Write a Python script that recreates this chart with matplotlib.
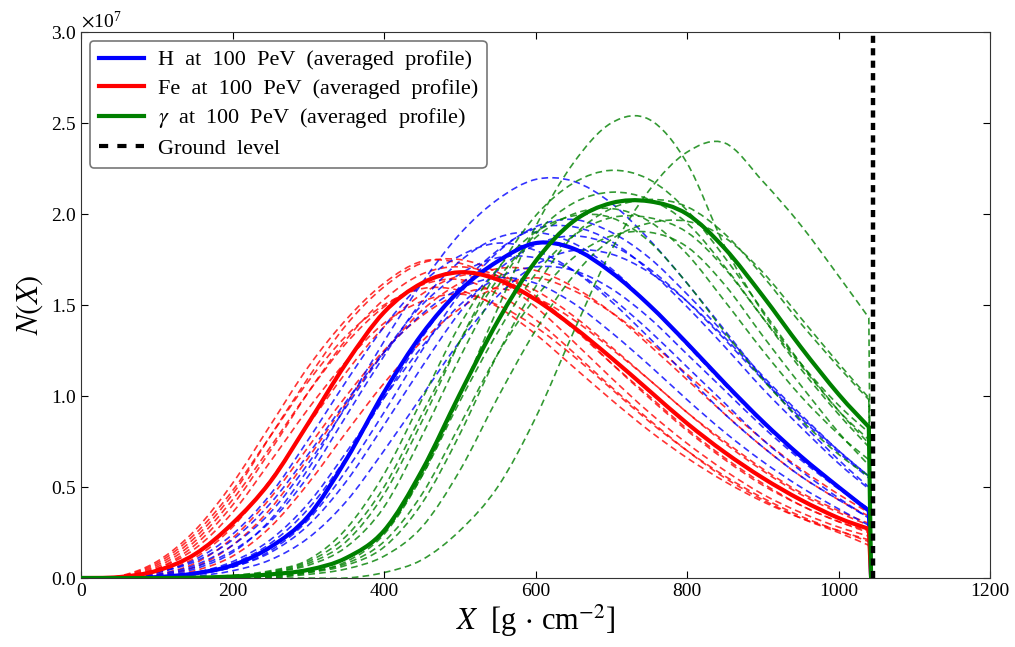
import matplotlib
matplotlib.use("Agg")
import matplotlib.pyplot as plt
from matplotlib.path import Path
from matplotlib.patches import PathPatch
from matplotlib.lines import Line2D

plt.rcParams['font.family'] = ['Liberation Serif', 'DejaVu Serif']
plt.rcParams['mathtext.fontset'] = 'stix'

# atmospheric depth grid [g/cm^2], last point = ground
depth = [0, 50, 100, 150, 200, 250, 300, 350, 400, 450, 500, 550, 600, 650,
         700, 750, 800, 850, 900, 950, 1000, 1040, 1043]
ground = 1045

# averaged profiles, N in units of 1e6
h_avg = [0, 0, 0.05, 0.25, 0.7, 1.7, 3.4, 6.5, 10.2, 13.4, 15.8, 17.4, 18.4, 18.1,
         16.8, 15.0, 12.9, 10.7, 8.6, 6.7, 5.0, 3.7, 0]
fe_avg = [0, 0.05, 0.4, 1.3, 3.0, 5.3, 8.5, 11.8, 14.6, 16.2, 16.8, 16.4, 15.3, 13.8,
          12.1, 10.3, 8.5, 6.9, 5.5, 4.3, 3.3, 2.7, 0]
g_avg = [0, 0, 0, 0.02, 0.08, 0.2, 0.45, 1.1, 2.6, 5.9, 10.1, 14.1, 17.4, 19.6,
         20.6, 20.7, 20.0, 18.1, 15.5, 12.7, 10.1, 8.3, 0]

# single showers
fe_showers = [
    [0, 0.1, 0.9, 2.6, 5.2, 8.4, 11.6, 14.2, 16.2, 17.4, 17.3, 16.4, 14.9, 13.0, 11.0, 9.1, 7.4, 5.9, 4.6, 3.6, 2.8, 2.3, 0],
    [0, 0.05, 0.7, 2.2, 4.6, 7.8, 11.0, 13.9, 16.0, 17.3, 17.5, 16.8, 15.5, 13.8, 11.8, 9.9, 8.1, 6.5, 5.1, 4.0, 3.1, 2.5, 0],
    [0, 0.03, 0.5, 1.8, 4.0, 7.0, 10.2, 13.1, 15.3, 16.7, 17.1, 16.6, 15.3, 13.7, 11.8, 10.0, 8.2, 6.6, 5.2, 4.0, 3.1, 2.6, 0],
    [0, 0.08, 0.8, 2.4, 4.8, 7.8, 10.8, 13.3, 15.0, 15.9, 15.8, 14.9, 13.4, 11.6, 9.8, 8.1, 6.6, 5.3, 4.2, 3.3, 2.6, 2.0, 0],
    [0, 0, 0.3, 1.1, 2.8, 5.4, 8.4, 11.3, 13.8, 15.6, 16.6, 16.6, 15.8, 14.4, 12.7, 10.9, 9.1, 7.4, 5.9, 4.6, 3.6, 2.9, 0],
    [0, 0, 0.2, 0.8, 2.2, 4.4, 7.2, 10.0, 12.5, 14.4, 15.6, 15.9, 15.4, 14.2, 12.6, 10.9, 9.1, 7.5, 6.0, 4.7, 3.7, 3.0, 0],
    [0, 0, 0.05, 0.4, 1.2, 2.8, 5.2, 8.0, 10.7, 13.0, 14.8, 16.0, 16.5, 15.8, 14.6, 13.0, 11.2, 9.4, 7.6, 6.0, 4.6, 3.6, 0],
    [0, 0.03, 0.5, 1.6, 3.6, 6.4, 9.3, 11.9, 14.0, 15.2, 15.6, 15.0, 13.8, 12.2, 10.4, 8.6, 7.0, 5.6, 4.4, 3.4, 2.6, 2.1, 0],
    [0, 0, 0.15, 0.6, 1.8, 3.8, 6.6, 9.6, 12.4, 14.7, 16.2, 17.0, 16.9, 16.0, 14.6, 12.8, 10.9, 9.0, 7.2, 5.6, 4.3, 3.4, 0],
    [0, 0.04, 0.6, 2.0, 4.3, 7.2, 10.2, 12.9, 14.9, 16.1, 16.4, 15.6, 14.2, 12.4, 10.5, 8.7, 7.0, 5.5, 4.3, 3.3, 2.5, 1.8, 0],
]
h_showers = [
    [0, 0, 0.1, 0.5, 1.4, 3.2, 6.0, 9.5, 13.0, 16.2, 18.9, 20.8, 21.9, 21.8, 20.6, 18.6, 16.2, 13.6, 11.0, 8.6, 6.5, 5.0, 0],
    [0, 0.05, 0.3, 1.0, 2.4, 4.6, 7.6, 10.8, 13.8, 16.2, 17.7, 18.4, 18.0, 16.9, 15.2, 13.2, 11.1, 9.0, 7.2, 5.6, 4.3, 3.3, 0],
    [0, 0, 0.05, 0.2, 0.6, 1.4, 2.9, 5.3, 8.4, 11.6, 14.6, 16.9, 18.3, 18.8, 18.3, 17.0, 15.2, 13.1, 10.9, 8.8, 6.9, 5.5, 0],
    [0, 0, 0.2, 0.7, 1.8, 3.6, 6.3, 9.4, 12.4, 15.0, 16.7, 17.6, 17.6, 16.9, 15.4, 13.6, 11.6, 9.6, 7.6, 5.9, 4.4, 3.3, 0],
    [0, 0, 0.05, 0.3, 0.8, 1.9, 3.8, 6.6, 9.9, 13.2, 16.0, 18.0, 19.2, 19.3, 18.5, 16.9, 14.9, 12.7, 10.4, 8.3, 6.3, 4.9, 0],
    [0, 0, 0.1, 0.3, 0.9, 2.1, 4.1, 6.9, 9.9, 12.7, 15.0, 16.5, 17.1, 16.9, 15.9, 14.3, 12.3, 10.3, 8.3, 6.5, 4.9, 3.8, 0],
    [0, 0, 0.15, 0.6, 1.5, 3.1, 5.6, 8.9, 12.2, 15.2, 17.4, 18.7, 19.0, 18.4, 17.0, 15.0, 12.8, 10.6, 8.5, 6.6, 5.0, 3.8, 0],
    [0, 0, 0, 0.1, 0.4, 1.0, 2.2, 4.2, 7.0, 10.0, 13.0, 15.5, 17.2, 18.0, 17.8, 16.8, 15.2, 13.2, 11.0, 8.9, 7.0, 5.6, 0],
    [0, 0.05, 0.3, 0.9, 2.1, 4.1, 6.8, 9.7, 12.4, 14.5, 15.9, 16.5, 16.2, 15.1, 13.5, 11.7, 9.8, 8.0, 6.4, 5.0, 3.8, 2.9, 0],
    [0, 0, 0, 0.2, 0.6, 1.5, 3.2, 5.9, 9.1, 12.5, 15.6, 17.9, 19.3, 19.7, 19.0, 17.6, 15.6, 13.4, 11.1, 9.0, 7.0, 5.6, 0],
]
g_showers = [
    [0, 0, 0, 0, 0, 0, 0.3, 0.9, 2.4, 5.6, 10.0, 14.8, 19.3, 22.8, 25.0, 25.2, 22.8, 18.2, 14.6, 11.8, 9.5, 8.0, 0],
    [0, 0, 0, 0, 0, 0, 0, 0, 0.3, 1.0, 2.6, 5.0, 8.8, 13.5, 18.0, 21.3, 23.4, 23.9, 21.8, 19.4, 16.6, 14.3, 0],
    [0, 0, 0, 0, 0.1, 0.3, 0.8, 2.0, 4.6, 8.6, 13.0, 16.9, 19.9, 21.7, 22.4, 21.9, 20.2, 17.6, 14.7, 11.8, 9.2, 7.4, 0],
    [0, 0, 0, 0, 0, 0.1, 0.3, 0.7, 1.7, 4.1, 7.9, 12.3, 16.0, 18.8, 20.3, 20.8, 20.4, 18.9, 16.6, 14.0, 11.6, 9.8, 0],
    [0, 0, 0, 0.05, 0.15, 0.4, 1.0, 2.7, 5.7, 9.8, 13.9, 17.0, 19.0, 19.9, 19.8, 18.5, 16.2, 13.5, 10.9, 8.7, 6.8, 5.6, 0],
    [0, 0, 0, 0, 0, 0.2, 0.45, 1.1, 2.5, 5.6, 9.7, 13.5, 16.7, 18.8, 19.8, 19.8, 19.0, 17.0, 14.3, 11.7, 9.2, 7.6, 0],
    [0, 0, 0, 0, 0.1, 0.3, 0.7, 1.7, 3.9, 7.8, 12.1, 16.0, 18.9, 20.6, 21.2, 20.8, 19.5, 17.1, 14.3, 11.5, 9.0, 7.2, 0],
    [0, 0, 0, 0, 0, 0.05, 0.2, 0.5, 1.2, 2.8, 5.9, 9.9, 13.6, 16.6, 18.6, 19.5, 19.6, 18.7, 16.8, 14.3, 11.8, 9.9, 0],
    [0, 0, 0, 0, 0, 0.1, 0.35, 0.8, 2.0, 4.6, 8.4, 12.3, 15.4, 17.6, 18.8, 19.0, 18.2, 16.1, 13.3, 10.6, 8.0, 6.2, 0],
    [0, 0, 0, 0, 0.1, 0.35, 0.9, 2.3, 5.0, 9.0, 13.0, 16.4, 18.7, 20.0, 20.3, 19.6, 17.8, 15.2, 12.5, 10.0, 7.9, 6.5, 0],
]


def profile_path(xs, ys):
    # smooth curve through the profile points (Catmull-Rom as cubic Bezier),
    # then a straight drop at ground level
    pts = [(x, y * 1e6) for x, y in zip(xs[:-1], ys[:-1])]
    verts = [pts[0]]
    codes = [Path.MOVETO]
    for i in range(len(pts) - 1):
        p0 = pts[i - 1] if i > 0 else pts[i]
        p1 = pts[i]
        p2 = pts[i + 1]
        p3 = pts[i + 2] if i + 2 < len(pts) else pts[i + 1]
        c1 = (p1[0] + (p2[0] - p0[0]) / 6, p1[1] + (p2[1] - p0[1]) / 6)
        c2 = (p2[0] - (p3[0] - p1[0]) / 6, p2[1] - (p3[1] - p1[1]) / 6)
        verts += [c1, c2, p2]
        codes += [Path.CURVE4] * 3
    verts.append((xs[-1], ys[-1] * 1e6))
    codes.append(Path.LINETO)
    return Path(verts, codes)


fig = plt.figure(figsize=(10.15, 6.47), dpi=100)
ax = fig.add_axes([0.0798, 0.1066, 0.8956, 0.8439])

# individual showers first, averages on top
for showers, col in [(fe_showers, 'r'), (h_showers, 'b'), (g_showers, 'g')]:
    for s in showers:
        ax.add_patch(PathPatch(profile_path(depth, s), fill=False, edgecolor=col,
                               lw=1.2, ls=(0, (4, 2.5)), alpha=0.8))

for prof, col in [(h_avg, 'b'), (fe_avg, 'r'), (g_avg, 'g')]:
    ax.add_patch(PathPatch(profile_path(depth, prof), fill=False, edgecolor=col,
                           lw=3, zorder=3))

ax.axvline(ground, color='k', ls=(0, (1.6, 1.2)), lw=3.2, zorder=4)

ax.set_xlim(0, 1200)
ax.set_ylim(0, 3.0e7)
ax.set_xticks(range(0, 1201, 200))
ax.set_yticks([i * 0.5e7 for i in range(7)])
ax.ticklabel_format(axis='y', style='sci', scilimits=(0, 0), useMathText=True)
ax.yaxis.get_offset_text().set_fontsize(14)
ax.tick_params(direction='in', top=True, right=True, labelsize=14, length=5)
for sp in ax.spines.values():
    sp.set_color('#333333')

ax.set_xlabel(r'$X$  [g$\,\cdot\,$cm$^{-2}$]', fontsize=22, labelpad=2)
ax.set_ylabel(r'$N(X)$', fontsize=22, labelpad=4)

handles = [
    Line2D([], [], color='b', lw=3),
    Line2D([], [], color='r', lw=3),
    Line2D([], [], color='g', lw=3),
    Line2D([], [], color='k', lw=3, ls=(0, (2.2, 2.2))),
]
labels = [
    'H  at  100  PeV  (averaged  profile)',
    'Fe  at  100  PeV  (averaged  profile)',
    r'$\gamma$  at  100  PeV  (averaged  profile)',
    'Ground  level',
]
leg = ax.legend(handles, labels, loc='upper left', fontsize=16, handlelength=2.05,
                handletextpad=0.6, borderaxespad=0.4, labelspacing=0.35, fancybox=True)
leg.get_frame().set_edgecolor('#555555')
leg.get_frame().set_linewidth(1.2)

fig.savefig('out.png', dpi=100)
